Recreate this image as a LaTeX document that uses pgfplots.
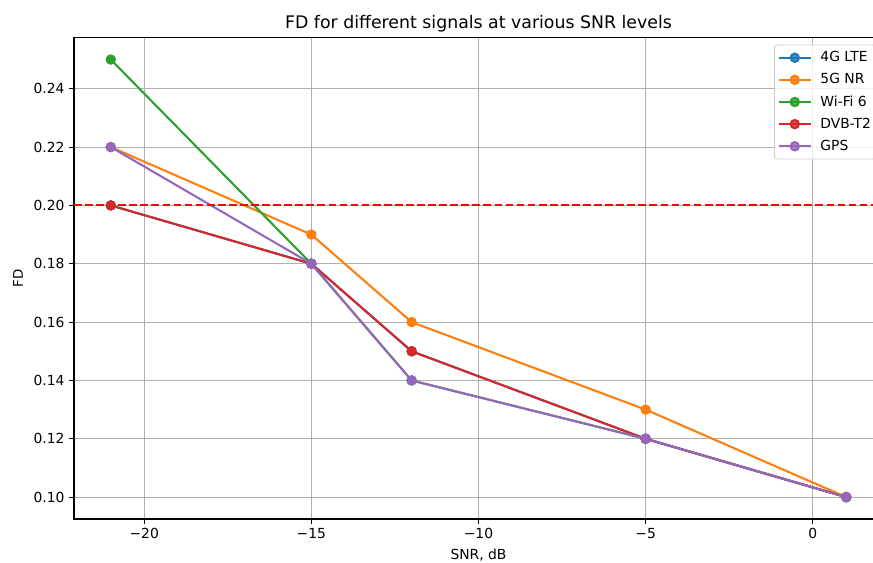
\documentclass[border=0pt]{standalone}
\usepackage{fontspec}
\setmainfont{DejaVu Sans}
\usepackage{pgfplots}
\pgfplotsset{compat=1.18}
\definecolor{tabblue}{HTML}{1F77B4}
\definecolor{taborange}{HTML}{FF7F0E}
\definecolor{tabgreen}{HTML}{2CA02C}
\definecolor{tabred}{HTML}{D62728}
\definecolor{tabpurple}{HTML}{9467BD}
\definecolor{gridgray}{HTML}{B0B0B0}
\definecolor{legendgray}{HTML}{CCCCCC}

\begin{document}
\begin{tikzpicture}
\begin{axis}[
    scale only axis,
    width=606.75pt,
    height=361pt,
    xmin=-22.1, xmax=2.1,
    ymin=0.0925, ymax=0.2575,
    xtick={-20,-15,-10,-5,0},
    xticklabels={−20,−15,−10,−5,0},
    ytick={0.10,0.12,0.14,0.16,0.18,0.20,0.22,0.24},
    yticklabels={0.10,0.12,0.14,0.16,0.18,0.20,0.22,0.24},
    tick pos=left,
    tick align=outside,
    major tick length=3.65pt,
    every tick/.append style={black, line width=0.83pt},
    axis line style={black, line width=0.83pt},
    grid=major,
    grid style={gridgray, line width=0.83pt},
    ticklabel style={font=\fontsize{10.4pt}{12pt}\selectfont},
    xlabel={SNR, dB},
    ylabel={FD},
    label style={font=\fontsize{10.4pt}{12pt}\selectfont},
    xlabel style={yshift=-0.3pt},
    every axis y label/.style={at={(axis description cs:-0.0692,0.5)}, anchor=center, rotate=90},
    title={FD for different signals at various SNR levels},
    title style={font=\fontsize{13pt}{15pt}\selectfont, at={(axis description cs:0.5,1)}, anchor=base, yshift=1.25pt},
    every axis plot/.append style={line width=1.56pt, mark=*, mark size=3.1pt},
    legend style={
        at={(rel axis cs:1,1)}, xshift=-5.25pt, yshift=-5.25pt,
        anchor=north east,
        draw=legendgray, line width=0.6pt, rounded corners=2pt,
        fill=white, fill opacity=0.8, text opacity=1,
        font=\fontsize{10.4pt}{12pt}\selectfont,
        inner xsep=2.5pt, inner ysep=3.5pt,
        row sep=4.6pt,
        nodes={inner sep=1pt, text height=8pt, text depth=2pt},
        /tikz/column 1/.style={column sep=5.5pt},
    },
    legend cell align=left,
    legend image code/.code={
        \draw[mark repeat=2, mark phase=2, #1] plot coordinates {(0pt,0pt) (12pt,0pt) (24pt,0pt)};
    },
]
\addplot[tabblue, mark options={fill=tabblue, draw=tabblue}] coordinates {
    (-21,0.20) (-15,0.18) (-12,0.15) (-5,0.12) (1,0.10) };
\addlegendentry{4G LTE}
\addplot[taborange, mark options={fill=taborange, draw=taborange}] coordinates {
    (-21,0.22) (-15,0.19) (-12,0.16) (-5,0.13) (1,0.10) };
\addlegendentry{5G NR}
\addplot[tabgreen, mark options={fill=tabgreen, draw=tabgreen}] coordinates {
    (-21,0.25) (-15,0.18) (-12,0.14) (-5,0.12) (1,0.10) };
\addlegendentry{Wi-Fi 6}
\addplot[tabred, mark options={fill=tabred, draw=tabred}] coordinates {
    (-21,0.20) (-15,0.18) (-12,0.15) (-5,0.12) (1,0.10) };
\addlegendentry{DVB-T2}
\addplot[tabpurple, mark options={fill=tabpurple, draw=tabpurple}] coordinates {
    (-21,0.22) (-15,0.18) (-12,0.14) (-5,0.12) (1,0.10) };
\addlegendentry{GPS}
\addplot[red, dashed, mark=none, line width=1.56pt, dash pattern=on 5.8pt off 2.5pt, forget plot] coordinates {
    (-22.1,0.20) (2.1,0.20) };
\coordinate (sw) at (rel axis cs:0,0);
\end{axis}
\pgfresetboundingbox
\path[use as bounding box] (sw) ++(-55.5pt,-32.25pt) rectangle ++(654.75pt,421.5pt);
\end{tikzpicture}
\end{document}
